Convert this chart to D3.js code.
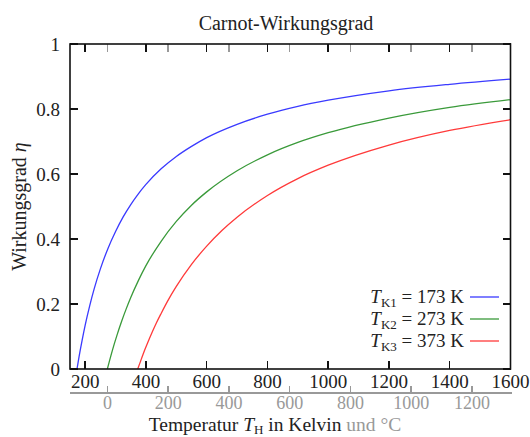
<!DOCTYPE html>
<html>
<head>
<meta charset="utf-8">
<script src="https://cdn.jsdelivr.net/npm/d3@7"></script>
<style>
  body { margin: 0; background: #fff; }
  svg text { font-family: "Liberation Serif", "DejaVu Serif", serif; }
</style>
</head>
<body>
<div id="chart"></div>
<script>
// Carnot-Wirkungsgrad, eta = f(T_H) for three cold reservoir temperatures

// Data
var kelvinTicks = [200, 400, 600, 800, 1000, 1200, 1400, 1600],
    celsiusTicks = [0, 200, 400, 600, 800, 1000, 1200],
    etaTicks = [0, 0.2, 0.4, 0.6, 0.8, 1];

var tK1 = [173, 180, 190, 200, 215, 230, 250, 275, 300, 325, 350, 375, 400, 450, 500, 550, 600, 700, 800, 900, 1000, 1200, 1400, 1600],
    eta1 = [0, 0.039, 0.089, 0.135, 0.195, 0.248, 0.308, 0.371, 0.423, 0.468, 0.506, 0.539, 0.568, 0.616, 0.654, 0.685, 0.712, 0.753, 0.784, 0.808, 0.827, 0.856, 0.876, 0.892];
var tK2 = [273, 280, 290, 305, 320, 335, 350, 375, 400, 450, 500, 550, 600, 700, 800, 900, 1000, 1200, 1400, 1600],
    eta2 = [0, 0.025, 0.059, 0.105, 0.147, 0.185, 0.22, 0.272, 0.318, 0.393, 0.454, 0.504, 0.545, 0.61, 0.659, 0.697, 0.727, 0.772, 0.805, 0.829];
var tK3 = [373, 380, 390, 405, 420, 435, 450, 475, 500, 550, 600, 650, 700, 800, 900, 1000, 1200, 1400, 1600],
    eta3 = [0, 0.018, 0.044, 0.079, 0.112, 0.143, 0.171, 0.215, 0.254, 0.322, 0.378, 0.426, 0.467, 0.534, 0.586, 0.627, 0.689, 0.734, 0.767];

var seriesNames = ["K1", "K2", "K3"],
    seriesLabels = ["173 K", "273 K", "373 K"],
    seriesColors = ["#3a3aff", "#3a9a3a", "#ff3a3a"];

var series = [
  { name: seriesNames[0], label: seriesLabels[0], color: seriesColors[0], t: tK1, eta: eta1 },
  { name: seriesNames[1], label: seriesLabels[1], color: seriesColors[1], t: tK2, eta: eta2 },
  { name: seriesNames[2], label: seriesLabels[2], color: seriesColors[2], t: tK3, eta: eta3 }
];

// Parameters
var width = 530,
    height = 437,
    margin = { top: 44, right: 19.5, bottom: 68, left: 70 },
    innerW = width - margin.left - margin.right,
    innerH = height - margin.top - margin.bottom,
    tickLen = 8,
    grey = "#999999";

var svg = d3.select("#chart").append("svg")
    .attr("width", width)
    .attr("height", height);

var x = d3.scaleLinear().domain([150, 1600]).range([margin.left, margin.left + innerW]);
var y = d3.scaleLinear().domain([0, 1]).range([margin.top + innerH, margin.top]);
var xC = function(c) { return x(c + 273.15); };

// Title
svg.append("text")
    .attr("x", 286)
    .attr("y", 30)
    .attr("text-anchor", "middle")
    .style("font-size", "20px")
    .style("fill", "#222")
    .text("Carnot-Wirkungsgrad");

// Curves
var line = d3.line()
    .x(function(d) { return x(d[0]); })
    .y(function(d) { return y(d[1]); })
    .curve(d3.curveMonotoneX);

var plot = svg.append("g");
plot.append("clipPath").attr("id", "clip")
  .append("rect")
    .attr("x", margin.left).attr("y", margin.top)
    .attr("width", innerW).attr("height", innerH);

plot.selectAll("path.curve")
    .data(series)
    .enter().append("path")
      .attr("class", "curve")
      .attr("clip-path", "url(#clip)")
      .attr("d", function(s) { return line(d3.zip(s.t, s.eta)); })
      .style("fill", "none")
      .style("stroke", function(s) { return s.color; })
      .style("stroke-width", 1.3);

// Ticks (inward, on all four sides)
var ticks = svg.append("g").style("shape-rendering", "crispEdges");

// celsius ticks on top (grey)
ticks.selectAll("line.ctop")
    .data(celsiusTicks)
    .enter().append("line")
      .attr("x1", function(d) { return xC(d); })
      .attr("x2", function(d) { return xC(d); })
      .attr("y1", margin.top)
      .attr("y2", margin.top + tickLen)
      .style("stroke", grey)
      .style("stroke-width", 1.5);

kelvinTicks.forEach(function(d) {
  ticks.append("line")
      .attr("x1", x(d)).attr("x2", x(d))
      .attr("y1", margin.top).attr("y2", margin.top + tickLen)
      .style("stroke", "#111").style("stroke-width", 1.5);
  ticks.append("line")
      .attr("x1", x(d)).attr("x2", x(d))
      .attr("y1", margin.top + innerH).attr("y2", margin.top + innerH - tickLen)
      .style("stroke", "#111").style("stroke-width", 1.5);
});

etaTicks.forEach(function(d) {
  ticks.append("line")
      .attr("x1", margin.left).attr("x2", margin.left + tickLen)
      .attr("y1", y(d)).attr("y2", y(d))
      .style("stroke", "#111").style("stroke-width", 1.5);
  ticks.append("line")
      .attr("x1", margin.left + innerW).attr("x2", margin.left + innerW - tickLen)
      .attr("y1", y(d)).attr("y2", y(d))
      .style("stroke", "#111").style("stroke-width", 1.5);
});

// Frame
svg.append("rect")
    .attr("x", margin.left)
    .attr("y", margin.top)
    .attr("width", innerW)
    .attr("height", innerH)
    .style("fill", "none")
    .style("stroke", "#111")
    .style("stroke-width", 1.6);

// Kelvin labels
svg.append("g").selectAll("text")
    .data(kelvinTicks)
    .enter().append("text")
      .attr("x", function(d) { return x(d); })
      .attr("y", 388)
      .attr("text-anchor", "middle")
      .style("font-size", "19px")
      .style("fill", "#222")
      .text(function(d) { return d; });

// Eta labels
svg.append("g").selectAll("text")
    .data(etaTicks)
    .enter().append("text")
      .attr("x", 60)
      .attr("y", function(d) { return y(d); })
      .attr("dy", "0.35em")
      .attr("text-anchor", "end")
      .style("font-size", "19px")
      .style("fill", "#222")
      .text(function(d) { return d === 0 || d === 1 ? d : d.toFixed(1); });

// Celsius axis (grey, below)
var cAxisY = 393;
svg.append("line")
    .attr("x1", margin.left).attr("x2", margin.left + innerW + 1)
    .attr("y1", cAxisY).attr("y2", cAxisY)
    .style("stroke", grey).style("stroke-width", 1.5)
    .style("shape-rendering", "crispEdges");

svg.append("g").selectAll("line")
    .data(celsiusTicks)
    .enter().append("line")
      .attr("x1", function(d) { return xC(d); })
      .attr("x2", function(d) { return xC(d); })
      .attr("y1", cAxisY).attr("y2", cAxisY - 7)
      .style("stroke", grey).style("stroke-width", 1.5)
      .style("shape-rendering", "crispEdges");

svg.append("g").selectAll("text")
    .data(celsiusTicks)
    .enter().append("text")
      .attr("x", function(d) { return xC(d); })
      .attr("y", 409)
      .attr("text-anchor", "middle")
      .style("font-size", "18px")
      .style("fill", grey)
      .text(function(d) { return d; });

// X axis title
var xt = svg.append("text")
    .attr("x", 275)
    .attr("y", 431)
    .attr("text-anchor", "middle")
    .style("font-size", "19.5px")
    .style("fill", "#222");
xt.append("tspan").text("Temperatur ");
xt.append("tspan").style("font-style", "italic").text("T");
xt.append("tspan").attr("dy", 3).style("font-size", "13px").text("H");
xt.append("tspan").attr("dy", -3).text(" in Kelvin ");
xt.append("tspan").style("fill", grey).text("und °C");

// Y axis title
var yt = svg.append("text")
    .attr("transform", "translate(26," + (margin.top + innerH / 2) + ") rotate(-90)")
    .attr("text-anchor", "middle")
    .style("font-size", "20px")
    .style("fill", "#222");
yt.append("tspan").text("Wirkungsgrad ");
yt.append("tspan").style("font-style", "italic").text("η");

// Legend
var legend = svg.append("g").selectAll("g")
    .data(series)
    .enter().append("g")
      .attr("transform", function(d, i) { return "translate(0," + (297 + i * 22) + ")"; });

legend.append("line")
    .attr("x1", 470).attr("x2", 499)
    .attr("y1", 0).attr("y2", 0)
    .style("stroke", function(d) { return d.color; })
    .style("stroke-width", 1.3);

var lt = legend.append("text")
    .attr("x", 464)
    .attr("y", 6)
    .attr("text-anchor", "end")
    .style("font-size", "19px")
    .style("fill", "#222");
lt.append("tspan").style("font-style", "italic").text("T");
lt.append("tspan").attr("dy", 4).style("font-size", "13px").text(function(d) { return d.name; });
lt.append("tspan").attr("dy", -4).text(function(d) { return " = " + d.label; });
</script>
</body>
</html>
